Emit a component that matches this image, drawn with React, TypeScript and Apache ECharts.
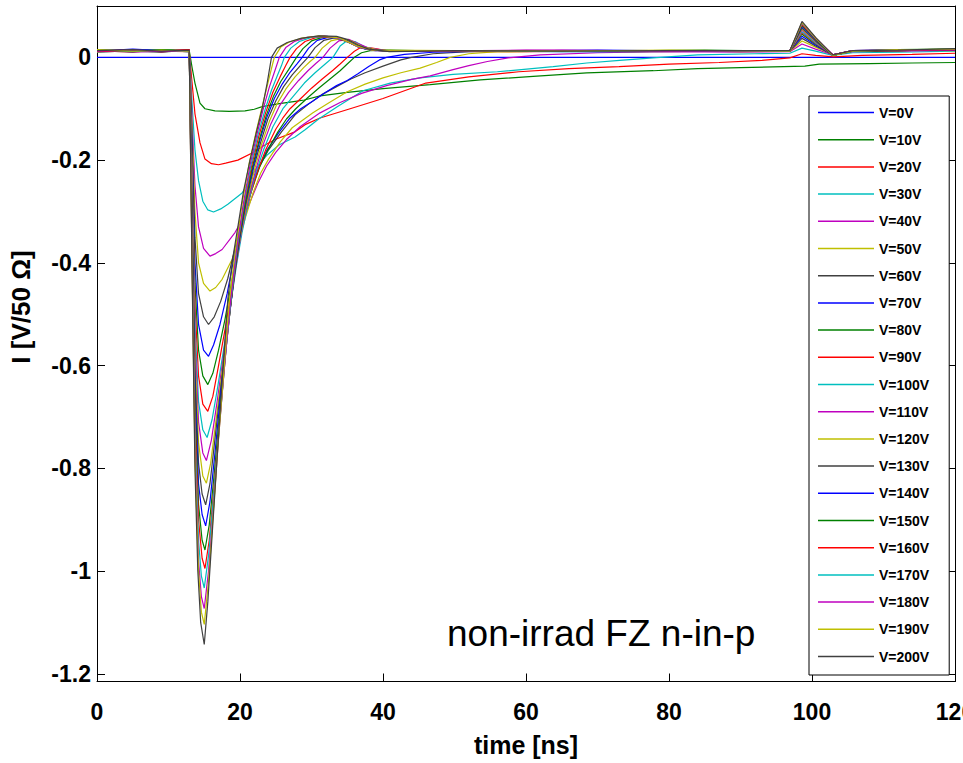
import React, { useEffect, useRef } from "react";
import * as echarts from "echarts";

const voltages = [0, 10, 20, 30, 40, 50, 60, 70, 80, 90, 100, 110, 120, 130, 140, 150, 160, 170, 180, 190, 200];
const palette = ["#0000FF", "#008000", "#FF0000", "#00BFBF", "#BF00BF", "#BFBF00", "#404040"];
const xTicks = [0, 20, 40, 60, 80, 100, 120];
const yTicks = [0, -0.2, -0.4, -0.6, -0.8, -1, -1.2];

const v0 = [[0, 0], [120, 0]];
const v10 = [[0, 0.012], [5, 0.014], [9, 0.011], [12.9, 0.013], [13.3, -0.02], [13.7, -0.05], [14.4, -0.089], [15.1, -0.1], [16.5, -0.104], [18.5, -0.105], [20.7, -0.104], [22, -0.101], [23.1, -0.096], [25.5, -0.09], [27.5, -0.086], [29, -0.083], [31.2, -0.075], [35, -0.068], [40, -0.061], [46.6, -0.053], [53.6, -0.044], [61, -0.037], [68.5, -0.03], [77.8, -0.026], [84, -0.022], [90, -0.02], [96, -0.018], [99, -0.017], [101, -0.013], [108, -0.012], [114, -0.011], [120, -0.01]];
const v20 = [[0, 0.01], [5, 0.013], [9, 0.012], [12.9, 0.011], [13.3, -0.05], [13.7, -0.11], [14.4, -0.166], [15.1, -0.198], [16, -0.207], [17, -0.209], [18, -0.206], [19.7, -0.2], [21.7, -0.186], [23.3, -0.172], [24.9, -0.16], [27.7, -0.145], [29.1, -0.131], [31.2, -0.118], [35.4, -0.1], [40, -0.08], [46, -0.05], [52, -0.038], [59, -0.028], [66, -0.022], [73, -0.018], [80, -0.013], [87, -0.01], [93, -0.006], [96.9, -0.001], [98.6, 0.007], [100.5, 0.004], [103, 0.001], [107, 0.004], [114, 0.006], [120, 0.008]];
const v30 = [[0, 0.014], [5, 0.011], [9, 0.013], [12.9, 0.012], [13.3, -0.09], [13.7, -0.18], [14.2, -0.24], [14.8, -0.28], [15.5, -0.297], [16.3, -0.301], [17.3, -0.295], [18.3, -0.286], [20.3, -0.264], [21.1, -0.245], [22.3, -0.215], [23.8, -0.19], [25.5, -0.17], [27.7, -0.155], [29.1, -0.141], [31, -0.12], [33.6, -0.096], [37.2, -0.065], [41, -0.05], [45.2, -0.04], [49.8, -0.033], [56, -0.028], [63.8, -0.018], [68.5, -0.011], [73.1, -0.006], [77.8, -0.001], [84, 0.005], [92, 0.007], [96.9, 0.008], [98.6, 0.018], [100.5, 0.012], [102.9, 0.004], [105.7, 0.009], [112, 0.01], [120, 0.012]];
const v40 = [[0, 0.011], [5, 0.015], [9, 0.012], [12.9, 0.014], [13.3, -0.12], [13.7, -0.25], [14.2, -0.33], [14.9, -0.372], [15.8, -0.387], [16.6, -0.382], [17.5, -0.374], [19.3, -0.341], [20.3, -0.316], [21.3, -0.285], [22.5, -0.245], [23.7, -0.212], [25, -0.185], [26.5, -0.16], [28.4, -0.135], [31.2, -0.108], [34, -0.088], [37, -0.07], [40.5, -0.055], [44, -0.043], [46.6, -0.036], [49.8, -0.024], [52, -0.016], [54.6, -0.008], [57.5, -0.001], [62, 0.005], [70, 0.009], [80, 0.011], [90, 0.01], [96.9, 0.011], [98.6, 0.026], [100.5, 0.016], [102.9, 0.005], [105.7, 0.011], [112, 0.012], [120, 0.014]];
const v50 = [[0, 0.013], [5, 0.01], [9, 0.015], [12.9, 0.012], [13.3, -0.14], [13.7, -0.3], [14.2, -0.4], [14.9, -0.44], [15.8, -0.455], [16.6, -0.448], [17.5, -0.432], [18.9, -0.393], [19.8, -0.36], [20.8, -0.31], [21.8, -0.265], [22.9, -0.225], [24, -0.198], [25.6, -0.165], [27.3, -0.137], [30.2, -0.108], [32.5, -0.088], [35, -0.067], [37.5, -0.052], [40, -0.04], [42.5, -0.03], [45.2, -0.021], [47.5, -0.01], [49.4, 0], [52, 0.007], [56, 0.011], [65, 0.012], [80, 0.013], [90, 0.011], [96.9, 0.012], [98.6, 0.032], [100.5, 0.02], [102.9, 0.005], [105.7, 0.012], [112, 0.014], [120, 0.013]];
const v60 = [[0, 0.015], [5, 0.012], [9, 0.01], [12.9, 0.014], [13.3, -0.16], [13.7, -0.35], [14.2, -0.46], [14.9, -0.505], [15.6, -0.52], [16.4, -0.505], [17.3, -0.475], [18.3, -0.43], [19.5, -0.36], [20.6, -0.3], [21.7, -0.25], [22.8, -0.21], [24, -0.18], [25.8, -0.145], [27.7, -0.112], [29.5, -0.092], [31.5, -0.072], [33.5, -0.057], [35.5, -0.042], [37.5, -0.03], [40, -0.017], [42.5, -0.005], [44, 0], [47, 0.007], [52, 0.011], [65, 0.013], [80, 0.012], [90, 0.013], [96.9, 0.012], [98.6, 0.037], [100.5, 0.022], [102.9, 0.005], [105.7, 0.013], [112, 0.013], [120, 0.015]];
const v70 = [[0, 0.012], [5, 0.016], [9, 0.013], [12.9, 0.011], [13.3, -0.18], [13.7, -0.4], [14.2, -0.52], [14.9, -0.57], [15.6, -0.582], [16.3, -0.56], [17.2, -0.52], [18.2, -0.46], [19.3, -0.38], [20.4, -0.31], [21.5, -0.255], [22.6, -0.215], [23.8, -0.18], [25.5, -0.145], [27, -0.118], [28.5, -0.1], [30.2, -0.085], [32, -0.068], [33.5, -0.055], [35, -0.045], [36.5, -0.032], [38, -0.018], [39.5, -0.005], [40.5, 0], [43, 0.006], [47, 0.01], [55, 0.012], [70, 0.011], [85, 0.013], [96.9, 0.013], [98.6, 0.041], [100.5, 0.024], [102.9, 0.004], [105.7, 0.012], [112, 0.014], [120, 0.014]];
const v80 = [[0, 0.014], [5, 0.011], [9, 0.014], [12.9, 0.012], [13.3, -0.2], [13.7, -0.44], [14.2, -0.57], [14.8, -0.62], [15.5, -0.637], [16.2, -0.615], [17, -0.57], [17.9, -0.51], [18.8, -0.44], [19.7, -0.37], [20.6, -0.31], [21.6, -0.26], [22.7, -0.215], [23.9, -0.18], [25.3, -0.145], [26.5, -0.12], [27.8, -0.1], [29.5, -0.078], [31, -0.06], [32.5, -0.043], [34, -0.026], [35, -0.013], [36, 0], [37, 0.009], [38.2, 0.013], [41, 0.014], [48, 0.012], [60, 0.013], [75, 0.011], [90, 0.012], [96.9, 0.013], [98.6, 0.045], [100.5, 0.026], [102.9, 0.005], [105.7, 0.013], [112, 0.013], [120, 0.016]];
const v90 = [[0, 0.012], [5, 0.015], [9, 0.011], [12.9, 0.013], [13.3, -0.22], [13.7, -0.48], [14.2, -0.62], [14.8, -0.675], [15.5, -0.689], [16.2, -0.66], [17, -0.6], [17.9, -0.53], [18.8, -0.455], [19.6, -0.385], [20.5, -0.32], [21.4, -0.27], [22.5, -0.22], [23.6, -0.18], [25, -0.14], [26, -0.118], [27, -0.1], [28.5, -0.08], [30, -0.06], [31.5, -0.042], [33, -0.025], [34, -0.013], [35, 0], [36, 0.012], [37, 0.02], [38.5, 0.018], [40.5, 0.013], [45, 0.012], [60, 0.011], [75, 0.013], [90, 0.012], [96.9, 0.012], [98.6, 0.048], [100.5, 0.027], [102.9, 0.004], [105.7, 0.012], [112, 0.014], [120, 0.015]];
const v100 = [[0, 0.01], [5, 0.013], [9, 0.015], [12.9, 0.012], [13.3, -0.24], [13.7, -0.52], [14.2, -0.67], [14.8, -0.725], [15.4, -0.74], [16.1, -0.705], [16.9, -0.64], [17.8, -0.56], [18.7, -0.48], [19.5, -0.405], [20.3, -0.34], [21.2, -0.28], [22.2, -0.225], [23.3, -0.18], [24.6, -0.135], [26, -0.1], [27.5, -0.075], [29, -0.05], [30.5, -0.03], [32, -0.012], [33, 0], [34, 0.022], [35, 0.033], [36.2, 0.03], [37.5, 0.02], [39.5, 0.014], [43, 0.012], [55, 0.013], [70, 0.011], [85, 0.012], [96.9, 0.013], [98.6, 0.05], [100.5, 0.028], [102.9, 0.005], [105.7, 0.013], [112, 0.013], [120, 0.016]];
const v110 = [[0, 0.013], [5, 0.01], [9, 0.012], [12.9, 0.015], [13.3, -0.26], [13.7, -0.55], [14.2, -0.71], [14.8, -0.77], [15.3, -0.785], [16, -0.745], [16.8, -0.67], [17.7, -0.58], [18.6, -0.49], [19.4, -0.41], [20.2, -0.34], [21.1, -0.28], [22.1, -0.225], [23.1, -0.175], [24.3, -0.13], [25.5, -0.095], [26.8, -0.068], [28.2, -0.045], [29.5, -0.026], [30.6, -0.012], [31.6, 0], [32.6, 0.018], [33.8, 0.032], [35.2, 0.035], [36.5, 0.027], [38, 0.018], [40.5, 0.013], [45, 0.012], [60, 0.014], [75, 0.012], [90, 0.013], [96.9, 0.012], [98.6, 0.053], [100.5, 0.03], [102.9, 0.004], [105.7, 0.012], [112, 0.015], [120, 0.014]];
const v120 = [[0, 0.011], [5, 0.014], [9, 0.013], [12.9, 0.011], [13.3, -0.28], [13.7, -0.58], [14.2, -0.75], [14.8, -0.815], [15.3, -0.829], [15.9, -0.79], [16.7, -0.7], [17.6, -0.6], [18.5, -0.5], [19.3, -0.415], [20.1, -0.345], [21, -0.28], [22, -0.22], [23, -0.17], [24.1, -0.125], [25.2, -0.09], [26.4, -0.062], [27.7, -0.038], [28.9, -0.02], [29.8, -0.008], [30.5, 0], [31.5, 0.018], [32.7, 0.032], [34.2, 0.037], [35.7, 0.031], [37.2, 0.02], [39.5, 0.014], [44, 0.012], [55, 0.011], [70, 0.013], [85, 0.012], [96.9, 0.013], [98.6, 0.055], [100.5, 0.031], [102.9, 0.005], [105.7, 0.013], [112, 0.014], [120, 0.016]];
const v130 = [[0, 0.014], [5, 0.012], [9, 0.011], [12.9, 0.014], [13.3, -0.3], [13.7, -0.61], [14.2, -0.79], [14.7, -0.85], [15.2, -0.871], [15.8, -0.83], [16.6, -0.73], [17.5, -0.62], [18.4, -0.515], [19.2, -0.425], [20, -0.35], [20.9, -0.28], [21.9, -0.215], [22.9, -0.165], [23.9, -0.12], [25, -0.085], [26.1, -0.057], [27.3, -0.034], [28.5, -0.015], [29.5, 0], [30.5, 0.019], [31.7, 0.033], [33.2, 0.038], [34.8, 0.034], [36.4, 0.022], [38.5, 0.015], [42, 0.012], [55, 0.013], [70, 0.012], [85, 0.013], [96.9, 0.012], [98.6, 0.057], [100.5, 0.032], [102.9, 0.004], [105.7, 0.012], [112, 0.013], [120, 0.015]];
const v140 = [[0, 0.012], [5, 0.015], [9, 0.014], [12.9, 0.012], [13.3, -0.32], [13.7, -0.64], [14.2, -0.83], [14.7, -0.89], [15.2, -0.912], [15.8, -0.865], [16.5, -0.77], [17.4, -0.64], [18.3, -0.53], [19.1, -0.435], [19.9, -0.355], [20.8, -0.28], [21.8, -0.215], [22.8, -0.16], [23.8, -0.115], [24.8, -0.08], [25.9, -0.052], [27, -0.029], [28, -0.012], [28.7, 0], [29.6, 0.018], [30.8, 0.033], [32.3, 0.039], [34, 0.037], [35.8, 0.026], [37.5, 0.016], [41, 0.012], [55, 0.012], [70, 0.014], [85, 0.012], [96.9, 0.013], [98.6, 0.06], [100.5, 0.034], [102.9, 0.005], [105.7, 0.013], [112, 0.015], [120, 0.015]];
const v150 = [[0, 0.013], [5, 0.011], [9, 0.015], [12.9, 0.013], [13.3, -0.34], [13.7, -0.67], [14.2, -0.87], [14.7, -0.94], [15.1, -0.959], [15.7, -0.91], [16.4, -0.81], [17.3, -0.67], [18.2, -0.545], [19, -0.445], [19.8, -0.36], [20.7, -0.285], [21.7, -0.215], [22.7, -0.16], [23.7, -0.112], [24.7, -0.075], [25.7, -0.047], [26.8, -0.024], [27.9, 0], [28.8, 0.017], [30, 0.032], [31.5, 0.039], [33.3, 0.039], [35.2, 0.029], [37, 0.018], [40, 0.012], [55, 0.013], [70, 0.012], [85, 0.014], [96.9, 0.012], [98.6, 0.062], [100.5, 0.035], [102.9, 0.004], [105.7, 0.012], [112, 0.014], [120, 0.016]];
const v160 = [[0, 0.011], [5, 0.013], [9, 0.012], [12.9, 0.015], [13.3, -0.36], [13.7, -0.7], [14.2, -0.9], [14.7, -0.975], [15.1, -0.995], [15.7, -0.94], [16.4, -0.83], [17.2, -0.7], [18.1, -0.56], [18.9, -0.455], [19.7, -0.365], [20.6, -0.285], [21.6, -0.213], [22.6, -0.155], [23.6, -0.107], [24.6, -0.068], [25.6, -0.038], [26.4, -0.016], [27, 0], [27.9, 0.017], [29.1, 0.031], [30.7, 0.039], [32.7, 0.04], [34.8, 0.032], [36.8, 0.019], [39.5, 0.013], [50, 0.012], [65, 0.013], [80, 0.012], [96.9, 0.013], [98.6, 0.064], [100.5, 0.036], [102.9, 0.005], [105.7, 0.013], [112, 0.013], [120, 0.015]];
const v170 = [[0, 0.014], [5, 0.012], [9, 0.013], [12.9, 0.011], [13.3, -0.38], [13.7, -0.73], [14.2, -0.94], [14.6, -1.01], [15, -1.033], [15.6, -0.97], [16.3, -0.855], [17.1, -0.72], [18, -0.575], [18.8, -0.465], [19.6, -0.37], [20.5, -0.287], [21.5, -0.212], [22.5, -0.152], [23.5, -0.102], [24.4, -0.064], [25.3, -0.033], [25.8, -0.016], [26.2, 0], [27.1, 0.018], [28.3, 0.031], [30, 0.039], [32.2, 0.041], [34.5, 0.034], [36.6, 0.02], [39, 0.013], [50, 0.013], [65, 0.011], [80, 0.013], [96.9, 0.012], [98.6, 0.066], [100.5, 0.037], [102.9, 0.004], [105.7, 0.012], [112, 0.015], [120, 0.016]];
const v180 = [[0, 0.012], [5, 0.014], [9, 0.011], [12.9, 0.013], [13.3, -0.4], [13.7, -0.76], [14.2, -0.98], [14.6, -1.05], [15, -1.073], [15.6, -1], [16.3, -0.875], [17, -0.74], [17.9, -0.59], [18.7, -0.47], [19.5, -0.375], [20.4, -0.29], [21.4, -0.21], [22.4, -0.148], [23.3, -0.098], [24.1, -0.058], [24.9, -0.025], [25.5, 0], [26.4, 0.019], [27.6, 0.031], [29.4, 0.039], [31.8, 0.042], [34.2, 0.036], [36.4, 0.021], [38.8, 0.013], [50, 0.012], [65, 0.014], [80, 0.012], [96.9, 0.013], [98.6, 0.067], [100.5, 0.038], [102.9, 0.005], [105.7, 0.013], [112, 0.014], [120, 0.015]];
const v190 = [[0, 0.015], [5, 0.012], [9, 0.014], [12.9, 0.012], [13.3, -0.41], [13.7, -0.78], [14.2, -1], [14.6, -1.08], [15, -1.104], [15.6, -1.02], [16.2, -0.9], [16.9, -0.76], [17.8, -0.6], [18.5, -0.475], [19.4, -0.37], [20.3, -0.285], [21.3, -0.205], [22.3, -0.142], [23.2, -0.09], [23.9, -0.05], [24.4, -0.022], [24.8, 0], [25.7, 0.02], [26.9, 0.03], [28.8, 0.038], [31.3, 0.042], [33.9, 0.038], [36.2, 0.023], [38.5, 0.014], [50, 0.013], [65, 0.012], [80, 0.014], [96.9, 0.012], [98.6, 0.068], [100.5, 0.038], [102.9, 0.004], [105.7, 0.012], [112, 0.015], [120, 0.016]];
const v200 = [[0, 0.013], [5, 0.015], [9, 0.012], [12.9, 0.014], [13.3, -0.42], [13.7, -0.8], [14.1, -1], [14.5, -1.1], [15, -1.143], [15.5, -1.06], [16.1, -0.93], [16.8, -0.78], [17.5, -0.63], [18.3, -0.47], [19, -0.39], [19.7, -0.33], [20.5, -0.26], [21.4, -0.2], [22.3, -0.145], [23.1, -0.1], [23.8, -0.05], [24.4, 0], [25.2, 0.018], [26.6, 0.029], [28.5, 0.037], [31, 0.042], [33.5, 0.041], [35, 0.035], [36.5, 0.024], [38, 0.016], [40.9, 0.011], [50, 0.013], [65, 0.012], [80, 0.013], [96.9, 0.013], [98.6, 0.07], [100.5, 0.039], [102.9, 0.005], [105.7, 0.013], [112, 0.014], [120, 0.017]];

const traces = [v0, v10, v20, v30, v40, v50, v60, v70, v80, v90, v100, v110, v120, v130, v140, v150, v160, v170, v180, v190, v200];

const FONT = "'Liberation Sans', Arial, Helvetica, sans-serif";

export default function App() {
  const ref = useRef<HTMLDivElement>(null);
  useEffect(() => {
    if (!ref.current) return;
    const chart = echarts.init(ref.current, undefined, { renderer: "svg" });
    const names = voltages.map((v) => `V=${v}V`);
    const axisLine = { show: true, onZero: false, lineStyle: { color: "#000", width: 1 } };
    const tick = { show: true, inside: true, length: 8, lineStyle: { color: "#000", width: 1 } };
    const option: any = {
      animation: false,
      backgroundColor: "#fff",
      grid: { left: 97, right: 8, top: 6, bottom: 81.5, containLabel: false, outerBoundsMode: "none" },
      xAxis: [
        {
          type: "value", min: 0, max: 120, interval: 20, position: "bottom",
          axisLine, axisTick: tick, splitLine: { show: false },
          axisLabel: { color: "#000", fontSize: 23, fontWeight: "bold", fontFamily: FONT, margin: 19, hideOverlap: false },
          name: "time [ns]", nameLocation: "middle", nameGap: 51,
          nameTextStyle: { color: "#000", fontSize: 25, fontWeight: "bold", fontFamily: FONT },
        },
        {
          type: "value", min: 0, max: 120, interval: 20, position: "top",
          axisLine, axisTick: tick, splitLine: { show: false }, axisLabel: { show: false },
        },
      ],
      yAxis: [
        {
          type: "value", min: -1.215, max: 0.1, position: "left",
          axisLine, splitLine: { show: false },
          axisTick: { ...tick, customValues: yTicks },
          axisLabel: {
            color: "#000", fontSize: 23, fontWeight: "bold", fontFamily: FONT, margin: 6,
            customValues: yTicks,
            formatter: (v: number) => String(Math.round(v * 10) / 10),
          },
        },
        {
          type: "value", min: -1.215, max: 0.1, position: "right",
          axisLine, splitLine: { show: false },
          axisTick: { ...tick, customValues: yTicks },
          axisLabel: { show: false },
        },
      ],
      legend: {
        data: names,
        orient: "vertical",
        left: 809,
        top: 96,
        padding: [7, 20, 9, 9],
        icon: "rect",
        itemWidth: 56,
        itemHeight: 1.5,
        itemGap: 8.2,
        backgroundColor: "#fff",
        borderColor: "#000",
        borderWidth: 1,
        borderRadius: 0,
        selectedMode: false,
        textStyle: { color: "#000", fontSize: 14, fontWeight: "bold", fontFamily: FONT, lineHeight: 14, padding: [5, 0, 0, 0] },
      },
      graphic: [
        {
          type: "text", x: 21, y: 307, rotation: Math.PI / 2,
          style: { text: "I [V/50 Ω]", font: `bold 26px ${FONT}`, fill: "#000", textAlign: "center", textVerticalAlign: "middle" },
        },
        {
          type: "text", x: 447, y: 633,
          style: { text: "non-irrad FZ n-in-p", font: `37px ${FONT}`, fill: "#000", textAlign: "left", textVerticalAlign: "middle" },
        },
      ],
      series: traces.map((d, i) => ({
        type: "line",
        name: names[i],
        data: d,
        symbol: "none",
        showSymbol: false,
        silent: true,
        lineStyle: { width: 1.2, color: palette[i % 7] },
        itemStyle: { color: palette[i % 7] },
        emphasis: { disabled: true },
      })),
    };
    chart.setOption(option);
    return () => chart.dispose();
  }, []);
  return (
    <div
      ref={ref}
      style={{ position: "absolute", left: 0, top: 0, width: 963, height: 763, background: "#fff" }}
    />
  );
}
